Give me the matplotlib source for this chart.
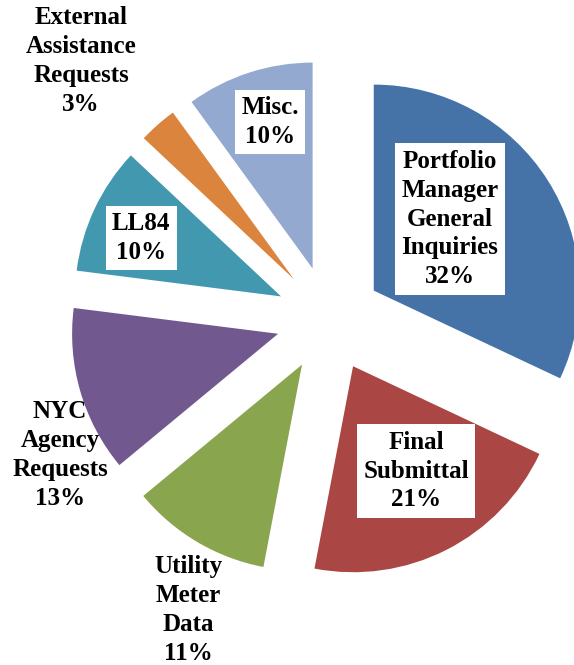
import numpy as np
import matplotlib
matplotlib.use("Agg")
import matplotlib.pyplot as plt

# data
categories = ["Portfolio\nManager\nGeneral\nInquiries", "Final\nSubmittal",
              "Utility\nMeter\nData", "NYC\nAgency\nRequests", "LL84",
              "External\nAssistance\nRequests", "Misc."]
shares = [32, 21, 11, 13, 10, 3, 10]
colors = ["#4572A7", "#AA4643", "#89A54E", "#71588F", "#4198AF", "#DB843D", "#93A9CF"]
boxed = [True, True, False, False, True, False, True]

# layout (pixels, figure is 574 x 665)
W, H = 574, 665
center = (329, H - 319)
radius = 206
explode = [53] * len(shares)
label_pos = [(450, 219), (416, 471), (188, 610), (60, 455), (141, 238), (81, 61), (270, 122)]

fig = plt.figure(figsize=(W / 100, H / 100), dpi=100)
ax = fig.add_axes([0, 0, 1, 1])

ax.pie(shares, explode=explode, colors=colors, startangle=90, counterclock=False,
       center=center, radius=radius, wedgeprops=dict(linewidth=0))

for cat, val, pos, box in zip(categories, shares, label_pos, boxed):
    txt = "%s\n%d%%" % (cat, val)
    kw = {}
    if box:
        kw["bbox"] = dict(boxstyle="square,pad=0.25", fc="white", ec="none")
    ax.text(pos[0], H - pos[1], txt, ha="center", va="center", fontsize=18,
            fontweight="bold", family="Liberation Serif", linespacing=1.33,
            color="black", **kw)

ax.set_xlim(0, W)
ax.set_ylim(0, H)
ax.set_aspect("equal")
ax.axis("off")

plt.savefig("out.png", dpi=100)
